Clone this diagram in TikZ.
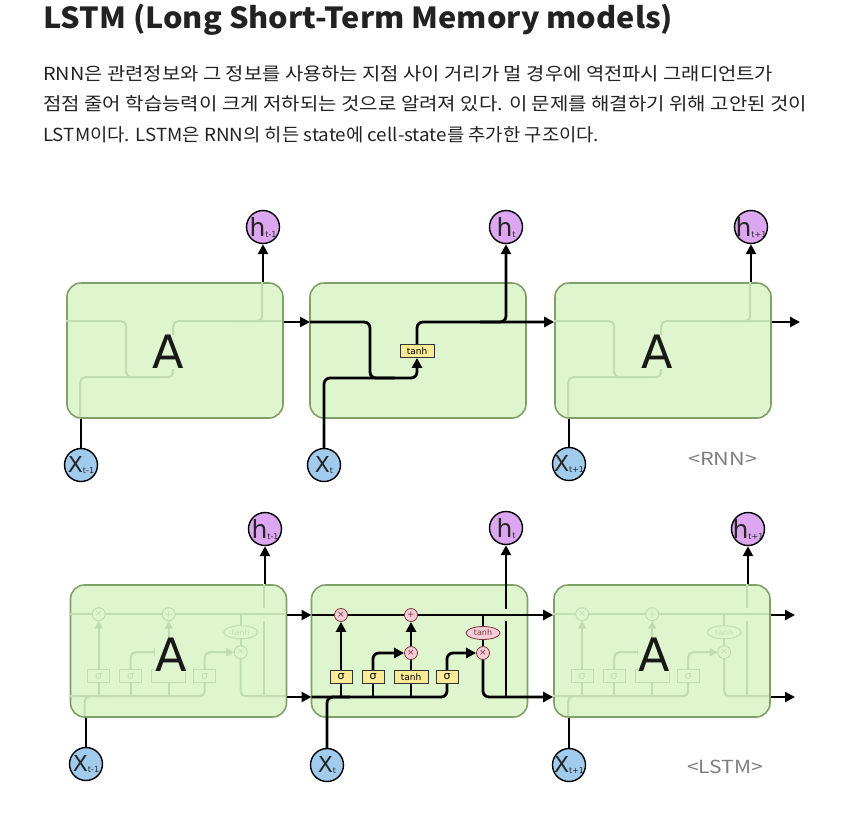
\documentclass[tikz,border=0pt]{standalone}
\usepackage{fontspec}
\setmainfont{Noto Sans CJK KR}
\newfontfamily\dv{DejaVu Sans}
\usetikzlibrary{arrows.meta,shapes.geometric}
\pgfdeclarelayer{cells}
\pgfdeclarelayer{wires}
\pgfsetlayers{cells,wires,main}
\definecolor{cellfill}{RGB}{223,245,206}
\definecolor{celldraw}{RGB}{128,160,104}
\definecolor{ghost}{RGB}{194,220,178}
\definecolor{hcol}{RGB}{221,166,240}
\definecolor{xcol}{RGB}{160,203,236}
\definecolor{yel}{RGB}{250,236,150}
\definecolor{pinkop}{RGB}{246,204,214}
\definecolor{pinkdraw}{RGB}{120,55,65}
\definecolor{labgray}{RGB}{125,125,125}
\definecolor{txt}{RGB}{34,34,34}
\tikzset{
  cellbox/.style={draw=celldraw, line width=1.6pt, fill=cellfill, rounded corners=14pt,
    minimum width=216pt, inner sep=0pt},
  wire/.style={draw=black, line width=2.8pt, rounded corners=6pt},
  arr/.style={-{Triangle[length=10pt,width=10pt]}},
  gw/.style={draw=ghost, line width=2pt, rounded corners=5pt},
  garr/.style={-{Triangle[length=8pt,width=8pt]}},
  hnode/.style={circle, draw=black, line width=1.4pt, fill=hcol, minimum size=33pt, inner sep=0pt},
  xnode/.style={circle, draw=black, line width=1.4pt, fill=xcol, minimum size=33pt, inner sep=0pt},
  circtext/.style={inner sep=0pt, text=black!85},
  sbox/.style={draw=black!80, line width=0.8pt, fill=yel, minimum width=22pt, minimum height=13pt,
    inner sep=0pt, font=\dv\fontsize{11}{11}\selectfont},
  tbox/.style={sbox, minimum width=34pt, font=\dv\fontsize{9}{9}\selectfont},
  opnode/.style={circle, draw=pinkdraw, line width=0.8pt, fill=pinkop, minimum size=13pt, inner sep=0pt,
    text=pinkdraw, font=\dv\fontsize{9}{9}\selectfont},
  opell/.style={ellipse, draw=pinkdraw, line width=0.8pt, fill=pinkop, minimum width=34pt, minimum height=13pt,
    inner sep=0pt, text=pinkdraw, font=\dv\fontsize{8}{8}\selectfont},
  gbox/.style={draw=ghost, line width=1pt, fill=cellfill, minimum width=22pt, minimum height=13pt,
    inner sep=0pt, text=ghost, font=\dv\fontsize{11}{11}\selectfont},
  gop/.style={circle, draw=ghost, line width=1pt, fill=cellfill, minimum size=13pt, inner sep=0pt,
    text=ghost, font=\dv\fontsize{9}{9}\selectfont},
  gell/.style={ellipse, draw=ghost, line width=1pt, fill=cellfill, minimum width=34pt, minimum height=13pt,
    inner sep=0pt, text=ghost, font=\dv\fontsize{8}{8}\selectfont},
  bigA/.style={fill=cellfill, inner sep=0pt, text=black!90, font=\dv\fontsize{46}{46}\selectfont},
  rnnghost/.pic={
    \draw[gw] (0,39) -- (60,39) -- (60,95) -- (90,95);
    \draw[gw] (14,135) -- (14,95) -- (107,95) -- (107,39) -- (216,39);
    \draw[gw] (170,39) -- (196,39) -- (196,0);
  },
  lstmghost/.pic={
    \draw[gw] (0,30) -- (216,30);
    \draw[gw] (15,132) -- (15,112) -- (40,112);
    \draw[gw] (0,112) -- (135,112) -- (135,98.5);
    \draw[gw] (29,112) -- (29,98.5);
    \draw[gw] (61,112) -- (61,98.5);
    \draw[gw] (99,112) -- (99,98.5);
    \draw[gw,garr] (29,85.5) -- (29,36.5);
    \draw[gw,garr] (61,85.5) -- (61,68) -- (92.5,68);
    \draw[gw,garr] (99,61.5) -- (99,36.5);
    \draw[gw,garr] (135,85.5) -- (135,68) -- (164.5,68);
    \draw[gw] (171,30) -- (171,41.5);
    \draw[gw] (171,54.5) -- (171,61.5);
    \draw[gw] (171,74.5) -- (171,112) -- (216,112);
    \draw[gw] (194,112) -- (194,37);
    \draw[gw] (194,24) -- (194,0);
    \node[gbox] (-s1) at (29,92) {σ};
    \node[gbox] (-s2) at (61,92) {σ};
    \node[gbox, minimum width=34pt] (-tt) at (99,92) {};
    \node[gbox] (-s3) at (135,92) {σ};
    \node[gop] (-fx) at (29,30) {×};
    \node[gop] (-pl) at (99,30) {+};
    \node[gop] (-ox) at (171,68) {×};
    \node[gell] (-te) at (171,48) {tanh};
  }
}
\newcommand\hlab[1]{{\dv\fontsize{25}{25}\selectfont h}\raisebox{-1pt}{\dv\fontsize{8}{8}\selectfont #1}}
\newcommand\xlab[1]{{\dv\fontsize{22}{22}\selectfont X}\raisebox{-1pt}{\dv\fontsize{8}{8}\selectfont #1}}
\begin{document}
\begin{tikzpicture}[x=1pt,y=-1pt]
\useasboundingbox (0,0) rectangle (867,812);
\begin{pgfonlayer}{cells}
\fill[white] (0,0) rectangle (867,812);
\end{pgfonlayer}

% ---------- text ----------
\node[anchor=base west, inner sep=0pt, text=txt] (title) at (43,28)
  {\resizebox{630pt}{\height}{\fontsize{29}{29}\selectfont\bfseries LSTM (Long Short-Term Memory models)}};
\node[anchor=base west, inner sep=0pt, text=txt] (p1) at (43,80)
  {\resizebox{730pt}{\height}{\fontsize{18}{18}\selectfont RNN은 관련정보와 그 정보를 사용하는 지점 사이 거리가 멀 경우에 역전파시 그래디언트가}};
\node[anchor=base west, inner sep=0pt, text=txt] (p2) at (43,110.5)
  {\resizebox{764pt}{\height}{\fontsize{18}{18}\selectfont 점점 줄어 학습능력이 크게 저하되는 것으로 알려져 있다. 이 문제를 해결하기 위해 고안된 것이}};
\node[anchor=base west, inner sep=0pt, text=txt] (p3) at (43,141)
  {\resizebox{556pt}{\height}{\fontsize{18}{18}\selectfont LSTM이다. LSTM은 RNN의 히든 state에 cell-state를 추가한 구조이다.}};

% ---------- cells ----------
\begin{pgfonlayer}{cells}
\node[cellbox, minimum height=135pt] (r1) at (175,350.5) {};
\node[cellbox, minimum height=135pt] (r2) at (418,350.5) {};
\node[cellbox, minimum height=135pt] (r3) at (663,350.5) {};
\node[cellbox, minimum height=132pt] (l1) at (178.5,651) {};
\node[cellbox, minimum height=132pt] (l2) at (419.5,651) {};
\node[cellbox, minimum height=132pt] (l3) at (662,651) {};
\end{pgfonlayer}

% ghosts
\pic (gr1) at (r1.north west) {rnnghost};
\pic (gr3) at (r3.north west) {rnnghost};
\pic (gl1) at (l1.north west) {lstmghost};
\pic (gl3) at (l3.north west) {lstmghost};

\node[bigA] (A1) at (168,352) {A};
\node[bigA] (A3) at (657,352) {A};
\node[bigA] (A4) at (171,655) {A};
\node[bigA] (A6) at (654,655) {A};

% ---------- RNN row nodes ----------
\node[hnode] (rh1) at (263,227) {};
\node[hnode] (rh2) at (506,227) {};
\node[hnode] (rh3) at (751,227) {};
\node[xnode] (rx1) at (81,465) {};
\node[xnode] (rx2) at (324,465) {};
\node[xnode] (rx3) at (569,464) {};
\node[circtext] (rh1t) at (rh1) {\hlab{t-1}};
\node[circtext] (rh2t) at (rh2) {\hlab{t}};
\node[circtext] (rh3t) at (rh3) {\hlab{t+1}};
\node[circtext] (rx1t) at (rx1) {\xlab{t-1}};
\node[circtext] (rx2t) at (rx2) {\xlab{t}};
\node[circtext] (rx3t) at (rx3) {\xlab{t+1}};
\node[tbox] (rt) at (417,351) {tanh};
\coordinate (r2in) at (310,322);
\coordinate (r3out) at (800,322);

% ---------- LSTM row nodes ----------
\node[hnode] (lh1) at (265,529) {};
\node[hnode] (lh2) at (506,528) {};
\node[hnode] (lh3) at (748,529) {};
\node[xnode] (lx1) at (86,764) {};
\node[xnode] (lx2) at (327,765) {};
\node[xnode] (lx3) at (569,765) {};
\node[circtext] (lh1t) at (lh1) {\hlab{t-1}};
\node[circtext] (lh2t) at (lh2) {\hlab{t}};
\node[circtext] (lh3t) at (lh3) {\hlab{t+1}};
\node[circtext] (lx1t) at (lx1) {\xlab{t-1}};
\node[circtext] (lx2t) at (lx2) {\xlab{t}};
\node[circtext] (lx3t) at (lx3) {\xlab{t+1}};

\node[sbox] (s1) at (341,677) {σ};
\node[sbox] (s2) at (373,677) {σ};
\node[tbox] (tt) at (411,677) {tanh};
\node[sbox] (s3) at (447,677) {σ};
\node[opnode] (fx) at (341,615) {×};
\node[opnode] (pl) at (411,615) {+};
\node[opnode] (ix) at (411,653) {×};
\node[opnode] (ox) at (483,653) {×};
\node[opell] (te) at (483,633) {tanh};
\coordinate (c2in) at (311.5,615);
\coordinate (h2in) at (311.5,697);
\coordinate (c3out) at (795,615);
\coordinate (h3out) at (795,697);

% labels
\node[anchor=base west, inner sep=0pt, text=labgray] (rnnlab) at (688,465)
  {\resizebox{69pt}{\height}{\fontsize{18}{18}\selectfont <RNN>}};
\node[anchor=base west, inner sep=0pt, text=labgray] (lstmlab) at (687,773)
  {\resizebox{76pt}{\height}{\fontsize{18}{18}\selectfont <LSTM>}};

% ---------- wires ----------
\begin{pgfonlayer}{wires}
% RNN
\draw[wire] (rx1.north) -- (rx1.north|-r1.south);
\draw[wire,arr] (r1.north-|rh1) -- (rh1.south);
\draw[wire,arr] (r1.east|-r2in) -- (r2in);
\draw[wire] (r2in) -- (370,322) -- (370,378) -- (395,378);
\draw[wire,arr] (rx2.north) -- (324,378) -- (417,378) -- (rt.south);
\draw[wire,arr] (rt.north) -- (417,322) -- (r3.west|-r2in);
\draw[wire,arr] (480,322) -- (506,322) -- (rh2.south);
\draw[wire,arr] (r3.east|-r2in) -- (r3out);
\draw[wire] (rx3.north) -- (rx3.north|-r3.south);
\draw[wire,arr] (r3.north-|rh3) -- (rh3.south);
% LSTM
\draw[wire] (lx1.north) -- (lx1.north|-l1.south);
\draw[wire,arr] (l1.north-|lh1) -- (lh1.south);
\draw[wire,arr] (l1.east|-c2in) -- (c2in);
\draw[wire,arr] (l1.east|-h2in) -- (h2in);
\draw[wire,arr] (c2in) -- (l3.west|-c2in);
\draw[wire] (h2in) -- (447,697) -- (s3.south);
\draw[wire] (lx2.north) -- (327,697) -- (350,697);
\draw[wire] (s1.south) -- (s1.south|-h2in);
\draw[wire] (s2.south) -- (s2.south|-h2in);
\draw[wire] (tt.south) -- (tt.south|-h2in);
\draw[wire,arr] (s1.north) -- (fx.south);
\draw[wire,arr] (s2.north) -- (373,653) -- (ix.west);
\draw[wire] (tt.north) -- (ix.south);
\draw[wire,arr] (ix.north) -- (pl.south);
\draw[wire,arr] (s3.north) -- (447,653) -- (ox.west);
\draw[wire] (te.north|-c2in) -- (te.north);
\draw[wire] (te.south) -- (ox.north);
\draw[wire,arr] (ox.south) -- (483,697) -- (l3.west|-h2in);
\draw[wire] (506,697) -- (506,621);
\draw[wire,arr] (506,609) -- (lh2.south);
\draw[wire,arr] (l3.east|-c2in) -- (c3out);
\draw[wire,arr] (l3.east|-h2in) -- (h3out);
\draw[wire] (lx3.north) -- (lx3.north|-l3.south);
\draw[wire,arr] (l3.north-|lh3) -- (lh3.south);
\end{pgfonlayer}
\end{tikzpicture}
\end{document}
